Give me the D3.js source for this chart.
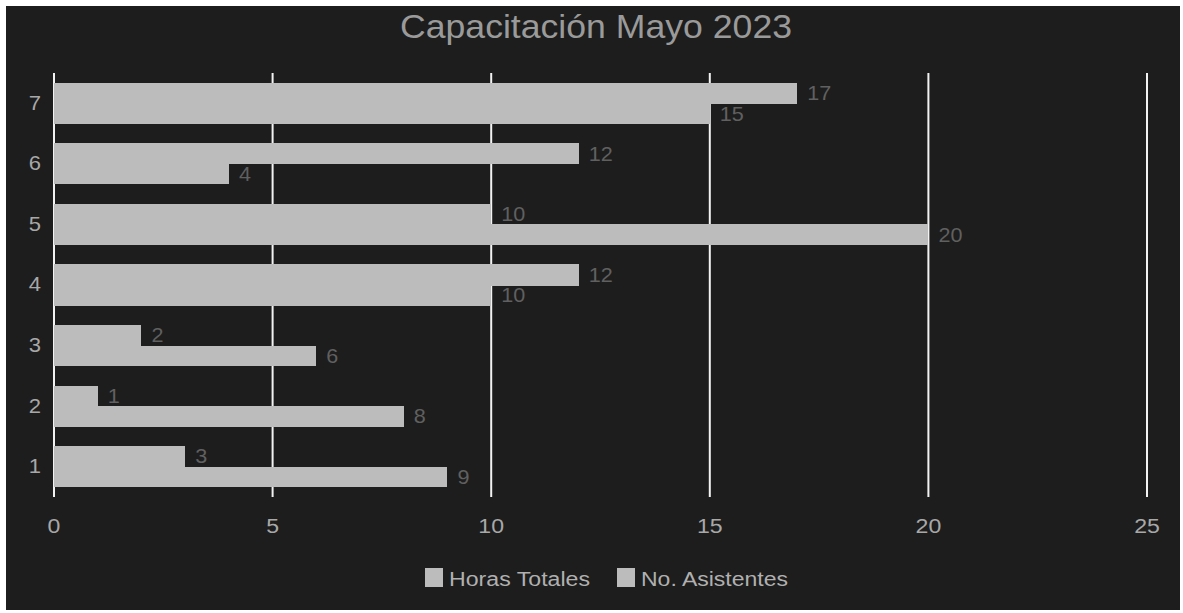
<!DOCTYPE html>
<html><head><meta charset="utf-8">
<script src="https://cdn.jsdelivr.net/npm/d3@7"></script>
<style>body{margin:0;background:#fff;}svg{display:block;}</style>
</head><body>
<script>
const categories = ["1","2","3","4","5","6","7"];
const horasTotales = [3, 1, 2, 12, 10, 12, 17];
const noAsistentes = [9, 8, 6, 10, 20, 4, 15];
const seriesNames = ["Horas Totales", "No. Asistentes"];
const xTicks = [0, 5, 10, 15, 20, 25];

const W = 1183, H = 613;
const svg = d3.select("body").append("svg").attr("width", W).attr("height", H)
  .style("font-family", "Liberation Sans, Arial, sans-serif");
svg.append("rect").attr("x", 6).attr("y", 6).attr("width", 1174).attr("height", 604).attr("fill", "#1d1d1d");

function txt(parent, x, y, str, size, anchor, fill, sx) {
  return parent.append("text")
    .attr("transform", `translate(${x},${y}) scale(${sx},1)`)
    .attr("dy", "0.35em").attr("text-anchor", anchor)
    .attr("fill", fill).attr("font-size", size).text(str);
}

const x = d3.scaleLinear().domain([0, 25]).range([54, 1147]);
const y = d3.scaleBand().domain(categories.slice().reverse()).range([73, 497]).paddingInner(0.32).paddingOuter(0.16);
const ySub = d3.scaleBand().domain(seriesNames).range([0, y.bandwidth()]);

// gridlines
svg.append("g").selectAll("line").data(xTicks).join("line")
  .attr("x1", d => x(d)).attr("x2", d => x(d)).attr("y1", 73).attr("y2", 497)
  .attr("stroke", "#f2f2f2").attr("stroke-width", 2);

const data = categories.map((c, i) => ({c, vals: [horasTotales[i], noAsistentes[i]]}));
const g = svg.append("g");
data.forEach(d => {
  d.vals.forEach((v, k) => {
    const yy = y(d.c) + ySub(seriesNames[k]);
    g.append("rect").attr("x", x(0)).attr("y", yy).attr("width", x(v) - x(0)).attr("height", ySub.bandwidth() + (k === 0 ? 0.5 : 0))
      .attr("fill", "#bcbcbc").attr("shape-rendering", "crispEdges");
    txt(g, x(v) + 10, yy + ySub.bandwidth() / 2, v, 20, "start", "#606060", 1.08);
  });
});

// y axis labels
const ya = svg.append("g");
categories.forEach(c => txt(ya, 41, y(c) + y.bandwidth() / 2 - 1, c, 21, "end", "#a8a8a8", 1.05));

// x axis labels
const xa = svg.append("g");
xTicks.forEach(t => txt(xa, x(t), 526, t, 21, "middle", "#a8a8a8", 1.1));

// title
svg.append("text").attr("x", 596).attr("y", 38).attr("text-anchor", "middle")
  .attr("fill", "#9a9a9a").attr("font-size", 33)
  .attr("textLength", 392).attr("lengthAdjust", "spacingAndGlyphs")
  .text("Capacitación Mayo 2023");

// legend
const legX = [425, 617];
const legW = [141, 147];
seriesNames.forEach((s, i) => {
  svg.append("rect").attr("x", legX[i]).attr("y", 568).attr("width", 18).attr("height", 19).attr("fill", "#bcbcbc");
  svg.append("text").attr("x", legX[i] + 24).attr("y", 586)
    .attr("fill", "#b0b0b0").attr("font-size", 20)
    .attr("textLength", legW[i]).attr("lengthAdjust", "spacingAndGlyphs").text(s);
});
</script>
</body></html>
